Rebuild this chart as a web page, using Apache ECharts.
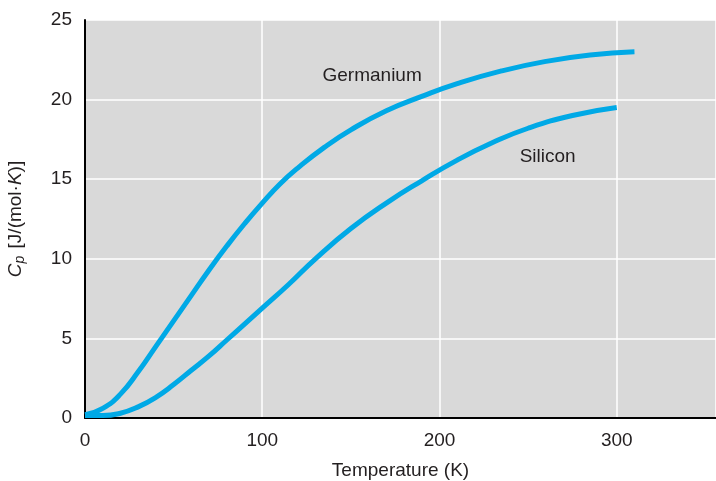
<!DOCTYPE html>
<html>
<head>
<meta charset="utf-8">
<script src="https://cdn.jsdelivr.net/npm/echarts@6/dist/echarts.min.js"></script>
<style>
  html, body { margin: 0; padding: 0; background: #fff; }
  #chart { width: 716px; height: 481px; }
</style>
</head>
<body>
<div id="chart"></div>
<script>
// temperature (K) and molar heat capacity (J/(mol·K))
const geTemp = [0, 10, 20, 30, 40, 50, 60, 70, 80, 90, 100, 110, 120, 135, 150, 170, 190, 210, 235, 260, 285, 310];
const geCp = [0.2, 0.6, 1.5, 2.9, 4.5, 6.1, 7.7, 9.3, 10.8, 12.2, 13.5, 14.7, 15.7, 17.0, 18.1, 19.3, 20.2, 21.0, 21.8, 22.4, 22.8, 23.0];
const siTemp = [0, 10, 20, 30, 40, 50, 60, 70, 80, 90, 100, 115, 130, 150, 170, 190, 210, 230, 250, 275, 300];
const siCp = [0.15, 0.15, 0.3, 0.7, 1.3, 2.1, 3.0, 3.9, 4.9, 5.9, 6.9, 8.4, 10.0, 11.9, 13.5, 14.9, 16.2, 17.3, 18.2, 19.0, 19.5];
const xTicks = [0, 100, 200, 300];
const yTicks = [0, 5, 10, 15, 20, 25];

const font = "'Liberation Sans', Helvetica, Arial, sans-serif";
const textColor = "#231f20";
const lineColor = "#00a9e6";

const pairs = (xs, ys) => xs.map((x, i) => [x, ys[i]]);

const chart = echarts.init(document.getElementById("chart"));
chart.setOption({
  animation: false,
  textStyle: { fontFamily: font },
  grid: {
    left: 85, right: 0, top: 20, bottom: 63,
    containLabel: false,
    outerBoundsMode: "none",
    show: true, backgroundColor: "#d9d9d9", borderWidth: 0
  },
  xAxis: {
    type: "value",
    min: 0, max: 356, interval: 100,
    name: "Temperature (K)",
    nameLocation: "middle",
    nameGap: 43,
    nameTextStyle: { fontSize: 19, color: textColor, fontFamily: font },
    axisLine: { show: true, lineStyle: { color: "#000", width: 2 } },
    axisTick: { show: false },
    axisLabel: {
      fontSize: 19, color: textColor, fontFamily: font, margin: 13,
      showMaxLabel: false,
      formatter: v => xTicks.includes(v) ? String(v) : ""
    },
    splitLine: { show: true, lineStyle: { color: "#ffffff", width: 1.5 } }
  },
  yAxis: {
    type: "value",
    min: yTicks[0], max: yTicks[yTicks.length - 1], interval: 5,
    name: "{i|C}{sub|p} [J/(mol·{i|K})]",
    nameLocation: "middle",
    nameGap: 58,
    nameTextStyle: {
      fontSize: 19, color: textColor, fontFamily: font,
      rich: {
        i: { fontSize: 19, fontStyle: "italic", color: textColor, fontFamily: font },
        sub: { fontSize: 14, fontStyle: "italic", color: textColor, fontFamily: font, verticalAlign: "bottom", padding: [8, 2, 0, 0] }
      }
    },
    axisLine: { show: true, lineStyle: { color: "#000", width: 2 } },
    axisTick: { show: false },
    axisLabel: { fontSize: 19, color: textColor, fontFamily: font, margin: 13 },
    splitLine: { show: true, lineStyle: { color: "#ffffff", width: 1.5 } }
  },
  series: [
    {
      name: "Germanium",
      type: "line",
      data: pairs(geTemp, geCp),
      smooth: 0.5,
      showSymbol: false,
      lineStyle: { color: lineColor, width: 5 },
      markPoint: {
        symbol: "circle", symbolSize: 0,
        label: { show: true, position: "inside", fontSize: 19, color: textColor, fontFamily: font, formatter: "Germanium" },
        data: [{ coord: [162, 21.5] }]
      }
    },
    {
      name: "Silicon",
      type: "line",
      data: pairs(siTemp, siCp),
      smooth: 0.5,
      showSymbol: false,
      lineStyle: { color: lineColor, width: 5 },
      markPoint: {
        symbol: "circle", symbolSize: 0,
        label: { show: true, position: "inside", fontSize: 19, color: textColor, fontFamily: font, formatter: "Silicon" },
        data: [{ coord: [261, 16.4] }]
      }
    }
  ]
});
</script>
</body>
</html>
